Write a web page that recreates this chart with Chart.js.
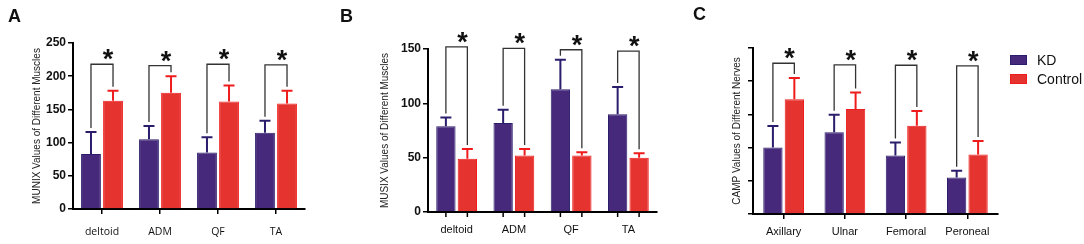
<!DOCTYPE html>
<html>
<head>
<meta charset="utf-8">
<script src="https://cdn.jsdelivr.net/npm/chart.js@4.4.1/dist/chart.umd.min.js"></script>
<style>
  body { margin: 0; background: #fff; width: 1084px; height: 244px; overflow: hidden; position: relative;
         font-family: 'Liberation Sans', Arial, sans-serif; }
  .panel { position: absolute; top: 0; height: 244px; }
  .letter { position: absolute; font-weight: bold; font-size: 18px; line-height: 18px; color: #111; }
  .leg { position: absolute; font-size: 14px; line-height: 14px; color: #111; }
  .leg span { position: absolute; width: 17px; height: 10px; left: -27px; top: 2px; box-sizing: border-box; }
</style>
</head>
<body>
<div class="panel" style="left:0;width:360px"><canvas id="chartA"></canvas></div>
<div class="panel" style="left:360px;width:360px"><canvas id="chartB"></canvas></div>
<div class="panel" style="left:720px;width:364px"><canvas id="chartC"></canvas></div>

<div class="letter" style="left:8px;top:7px">A</div>
<div class="letter" style="left:340px;top:7px">B</div>
<div class="letter" style="left:693px;top:5px">C</div>

<div class="leg" style="left:1037px;top:53px"><span style="background:#46297a;border:1px solid #2b1d6b"></span>KD</div>
<div class="leg" style="left:1037px;top:72px"><span style="background:#e5332f;border:1px solid #ee1c1c"></span>Control</div>

<script>
const groups = ['KD', 'Control'];
const muscles = ['deltoid', 'ADM', 'QF', 'TA'];
const nerves = ['Axillary', 'Ulnar', 'Femoral', 'Peroneal'];

// A: MUNIX
const munixKD = [83, 105, 85, 115];
const munixKDSd = [33, 20, 23, 18];
const munixCtrl = [163, 175, 162, 159];
const munixCtrlSd = [15, 25, 24, 19];
const munixBracket = [218, 216, 218, 217];

// B: MUSIX
const musixKD = [79, 82, 113, 90];
const musixKDSd = [8, 12, 27, 25];
const musixCtrl = [49, 52, 52, 50];
const musixCtrlSd = [9, 6, 3, 4];
const musixBracket = [152, 150.5, 149.3, 148];

// C: CAMP
const campKD = [2.0, 2.46, 1.76, 1.1];
const campKDSd = [0.65, 0.53, 0.39, 0.2];
const campCtrl = [3.46, 3.16, 2.66, 1.79];
const campCtrlSd = [0.64, 0.5, 0.44, 0.41];
const campBracket = [4.54, 4.49, 4.48, 4.46];

const kdFill = '#46297a', kdLine = '#2b1d6b';
const ctrlFill = '#e5332f', ctrlLine = '#ee1c1c';

// error bars, significance brackets and asterisks
const sigPlugin = {
  id: 'sig',
  afterDraw(chart, args, opts) {
    const ctx = chart.ctx;
    const y = chart.scales.y;
    const tops = [];
    ctx.save();
    chart.data.datasets.forEach((ds, di) => {
      const meta = chart.getDatasetMeta(di);
      tops[di] = [];
      meta.data.forEach((bar, i) => {
        const top = y.getPixelForValue(ds.data[i] + ds.sd[i]);
        tops[di][i] = top;
        ctx.strokeStyle = ds.borderColor;
        ctx.lineWidth = 2;
        ctx.beginPath();
        ctx.moveTo(bar.x, bar.y);
        ctx.lineTo(bar.x, top);
        ctx.moveTo(bar.x - 5.5, top);
        ctx.lineTo(bar.x + 5.5, top);
        ctx.stroke();
        if (opts.barTicks) {
          ctx.strokeStyle = '#000';
          ctx.lineWidth = 1.5;
          ctx.beginPath();
          ctx.moveTo(bar.x, chart.chartArea.bottom);
          ctx.lineTo(bar.x, chart.chartArea.bottom + 5);
          ctx.stroke();
        }
      });
    });
    const m0 = chart.getDatasetMeta(0).data, m1 = chart.getDatasetMeta(1).data;
    opts.bracket.forEach((v, i) => {
      const by = y.getPixelForValue(v);
      const x0 = m0[i].x, x1 = m1[i].x;
      ctx.strokeStyle = '#333';
      ctx.lineWidth = 1.3;
      ctx.beginPath();
      ctx.moveTo(x0, tops[0][i] - 4);
      ctx.lineTo(x0, by);
      ctx.lineTo(x1, by);
      ctx.lineTo(x1, tops[1][i] - 4);
      ctx.stroke();
      ctx.fillStyle = '#111';
      ctx.font = 'bold 27px "Liberation Sans"';
      ctx.textAlign = 'center';
      ctx.textBaseline = 'alphabetic';
      ctx.fillText('*', (x0 + x1) / 2 + 6, by + 4);
    });
    ctx.restore();
  }
};

function makeChart(id, cfg) {
  return new Chart(document.getElementById(id), {
    type: 'bar',
    data: {
      labels: cfg.labels,
      datasets: [
        { label: groups[0], data: cfg.kd, sd: cfg.kdSd, backgroundColor: kdFill, borderColor: kdLine, borderWidth: 1 },
        { label: groups[1], data: cfg.ctrl, sd: cfg.ctrlSd, backgroundColor: ctrlFill, borderColor: ctrlLine, borderWidth: 1 }
      ]
    },
    options: {
      responsive: true,
      maintainAspectRatio: false,
      animation: false,
      datasets: { bar: { categoryPercentage: cfg.catPct, barPercentage: 0.9 } },
      layout: { padding: cfg.padding },
      plugins: {
        legend: { display: false },
        tooltip: { enabled: false },
        sig: { bracket: cfg.bracket, barTicks: cfg.barTicks }
      },
      scales: {
        x: {
          grid: { display: true, offset: false, drawOnChartArea: false, drawTicks: !cfg.barTicks,
                  tickLength: 5, color: '#000', lineWidth: 1.5 },
          border: { display: true, color: '#000', width: 2 },
          ticks: { color: '#111', padding: cfg.xPad, font: cfg.xFont, maxRotation: 0 },
          afterFit: s => { s.height = cfg.xHeight; }
        },
        y: {
          min: 0, max: cfg.max,
          grid: { display: true, drawOnChartArea: false, tickLength: 5, color: '#000', lineWidth: 1.5 },
          border: { display: true, color: '#000', width: 2 },
          ticks: { display: cfg.yTicks, stepSize: cfg.step, color: '#111', padding: 2,
                   font: { family: 'Liberation Sans', size: 12, weight: 'bold' } },
          title: { display: true, text: cfg.title, color: '#222', padding: { top: 3, bottom: 0 },
                   font: { family: 'Liberation Sans', size: 10 } },
          afterFit: s => { s.width = cfg.yWidth; }
        }
      }
    },
    plugins: [sigPlugin]
  });
}

makeChart('chartA', {
  labels: muscles, kd: munixKD, kdSd: munixKDSd, ctrl: munixCtrl, ctrlSd: munixCtrlSd, bracket: munixBracket,
  max: 250, step: 50, yTicks: true, title: 'MUNIX Values of Different Muscles',
  padding: { left: 28, top: 43, right: 55, bottom: 0 }, yWidth: 45, xHeight: 35, xPad: 12,
  xFont: { family: 'Open Sans', size: 10.5 }, catPct: 0.76, barTicks: false
});

makeChart('chartB', {
  labels: muscles, kd: musixKD, kdSd: musixKDSd, ctrl: musixCtrl, ctrlSd: musixCtrlSd, bracket: musixBracket,
  max: 150, step: 50, yTicks: true, title: 'MUSIX Values of Different Muscles',
  padding: { left: 16, top: 49, right: 63, bottom: 0 }, yWidth: 52, xHeight: 32, xPad: 11,
  xFont: { family: 'Liberation Sans', size: 11 }, catPct: 0.75, barTicks: true
});

makeChart('chartC', {
  labels: nerves, kd: campKD, kdSd: campKDSd, ctrl: campCtrl, ctrlSd: campCtrlSd, bracket: campBracket,
  max: 5, step: 1, yTicks: false, title: 'CAMP Values of Different Nerves',
  padding: { left: 8, top: 48, right: 86, bottom: 0 }, yWidth: 25, xHeight: 30, xPad: 6,
  xFont: { family: 'Liberation Sans', size: 11 }, catPct: 0.7, barTicks: false
});
</script>
</body>
</html>
